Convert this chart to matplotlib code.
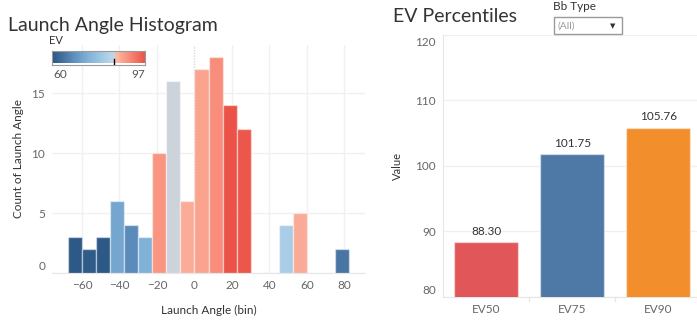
import numpy as np
import matplotlib.pyplot as plt
import matplotlib.transforms as mtransforms
from matplotlib.colors import LinearSegmentedColormap, Normalize
from matplotlib.patches import Rectangle

plt.rcParams['font.family'] = ['Lato', 'DejaVu Sans']

# Launch angle histogram (bin width 7.5 deg)
bin_left = [-67.5, -60, -52.5, -45, -37.5, -30, -22.5, -15, -7.5,
            0, 7.5, 15, 22.5, 45, 52.5, 75]
counts = [3, 2, 3, 6, 4, 3, 10, 16, 6, 17, 18, 14, 12, 4, 5, 2]
avg_ev = [60.4, 60.8, 60.4, 72.3, 68.0, 74.2, 89.7, 84.7, 87.3,
          88.1, 90.5, 97.0, 96.5, 81.0, 87.4, 65.2]
bin_width = 7.5
ev_min, ev_max, ev_center = 60, 97, 84.7

# EV percentiles
pct_labels = ['EV50', 'EV75', 'EV90']
pct_values = [88.30, 101.75, 105.76]
pct_colors = ['#e15759', '#4e79a7', '#f28e2b']

W, H = 697, 329
fig = plt.figure(figsize=(W / 100, H / 100), dpi=100)

def fx(px):
    return px / W

def fy(py):
    return 1 - py / H

def nudge(label, dy_px):
    off = mtransforms.ScaledTranslation(0, dy_px / 100, fig.dpi_scale_trans)
    label.set_transform(label.get_transform() + off)

# red-blue diverging palette centred on ~84.7
cmap = LinearSegmentedColormap.from_list('rb', [
    (0.0, '#2b5784'), (0.14, '#4a76a4'), (0.22, '#5b8cbb'),
    (0.38, '#7fb1d7'), (0.57, '#a9cde6'), (0.64, '#bad6eb'),
    (0.667, '#cdd3da'), (0.70, '#fbb9a6'), (0.80, '#f99682'),
    (1.0, '#eb5349')])
norm = Normalize(ev_min, ev_max)

grid_c = '#f0f0f0'
tick_c = '#666666'
text_c = '#333333'
edge = (1, 1, 1, 0.45)

# ---- left: histogram ----
ax = fig.add_axes([fx(52), fy(273), fx(365 - 52), (273 - 45) / H])
colors = [cmap(norm(v)) for v in avg_ev]
ax.bar(bin_left, counts, width=bin_width, align='edge', color=colors,
       edgecolor=edge, linewidth=1.0, zorder=3)
ax.set_xlim(-76, 91)
ax.set_ylim(0, 19)
ax.set_xticks(np.arange(-60, 81, 20))
ax.set_yticks([0, 5, 10, 15])
ax.grid(True, color=grid_c, linewidth=1, zorder=0)
for gl, xv in zip(ax.get_xgridlines(), np.arange(-60, 81, 20)):
    if xv == 0:
        gl.set_linestyle((0, (1, 1)))
        gl.set_color('#d8d8d8')
for s in ['top', 'right', 'left']:
    ax.spines[s].set_visible(False)
ax.spines['bottom'].set_color('#e6e6e6')
ax.tick_params(length=0, labelsize=8.5, colors=tick_c, pad=5)
ax.set_xlabel('Launch Angle (bin)', fontsize=8.5, color=text_c, labelpad=10)
ax.set_ylabel('Count of Launch Angle', fontsize=8.5, color=text_c, labelpad=5)
nudge(ax.yaxis.get_major_ticks()[0].label1, 7)

fig.text(fx(8), fy(25), 'Launch Angle Histogram', fontsize=14,
         color=text_c, va='center', ha='left')

# colour legend
cax = fig.add_axes([fx(52), fy(65), fx(93), 14 / H])
grad = np.linspace(0, 1, 256).reshape(1, -1)
cax.imshow(grad, aspect='auto', cmap=cmap, extent=[ev_min, ev_max, 0, 1])
cax.set_xticks([])
cax.set_yticks([])
for s in cax.spines.values():
    s.set_color('#9a9a9a')
cax.plot([ev_center, ev_center], [-0.1, 0.3], color='black', linewidth=1,
         clip_on=False)
fig.text(fx(49), fy(40), 'EV', fontsize=8, color=text_c, va='center')
fig.text(fx(53), fy(74), '60', fontsize=8.5, color='#555555', va='center')
fig.text(fx(145), fy(74), '97', fontsize=8.5, color='#555555', va='center',
         ha='right')

# ---- right: EV percentiles ----
ax2 = fig.add_axes([fx(443), fy(296.7), fx(697 - 443), (296.7 - 35) / H])
xpos = np.arange(len(pct_labels))
ax2.bar(xpos, pct_values, width=0.745, color=pct_colors, edgecolor=edge,
        linewidth=1.0, zorder=3)
for x, v in zip(xpos, pct_values):
    ax2.text(x, v + 0.9, f'{v:.2f}', ha='center', va='bottom', fontsize=8.5,
             color=text_c)
ax2.set_xlim(-0.5, 2.45)
ax2.set_ylim(80, 120)
ax2.set_yticks([80, 90, 100, 110, 120])
ax2.set_xticks(xpos)
ax2.set_xticklabels(pct_labels)
ax2.yaxis.grid(True, color=grid_c, linewidth=1, zorder=0)
for s in ['top', 'right']:
    ax2.spines[s].set_visible(False)
ax2.spines['left'].set_color('#e6e6e6')
ax2.spines['bottom'].set_color('#e6e6e6')
ax2.tick_params(length=0, labelsize=8.5, colors=tick_c, pad=5)
ax2.set_ylabel('Value', fontsize=8, color=text_c, labelpad=9)
yt = ax2.yaxis.get_major_ticks()
nudge(yt[0].label1, 7)
nudge(yt[-1].label1, -7)
for b in [0.5, 1.5]:
    ax2.plot([b, b], [0, -0.018], transform=ax2.get_xaxis_transform(),
             color='#e6e6e6', linewidth=1, clip_on=False)

fig.text(fx(393), fy(16), 'EV Percentiles', fontsize=14,
         color=text_c, va='center', ha='left')

# filter control
fig.text(fx(553), fy(7), 'Bb Type', fontsize=8.5, color=text_c, va='center')
fig.patches.append(Rectangle((fx(554), fy(34)), fx(68), 17 / H,
                             transform=fig.transFigure, facecolor='white',
                             edgecolor='#9a9a9a', linewidth=1))
fig.text(fx(557), fy(26), '(All)', fontsize=7.5, color='#9a9a9a', va='center')
fig.text(fx(613), fy(26), '▼', fontsize=5, color=text_c, va='center',
         ha='center', family='DejaVu Sans')

fig.savefig('out.png', dpi=100)
